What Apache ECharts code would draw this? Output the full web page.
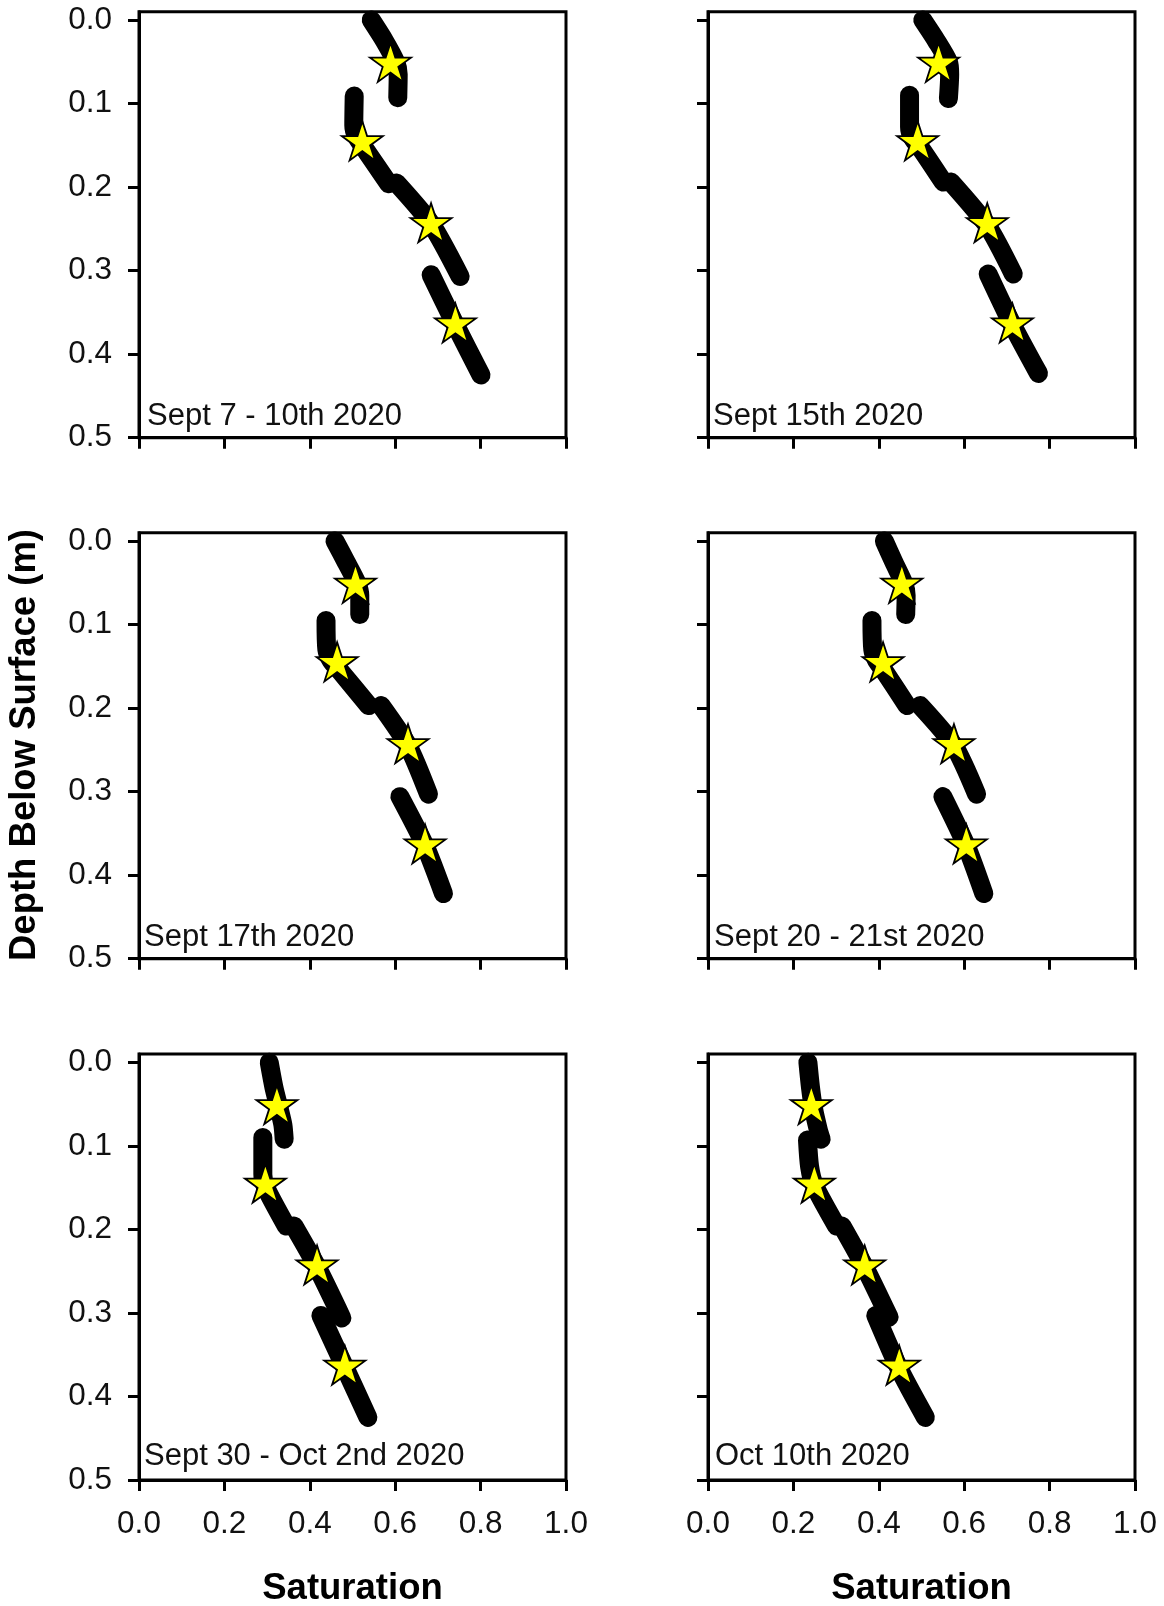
<!DOCTYPE html>
<html>
<head>
<meta charset="utf-8">
<script src="https://cdn.jsdelivr.net/npm/echarts@6/dist/echarts.min.js"></script>
<style>
  html, body { margin: 0; padding: 0; background: #fff; }
  #chart { width: 1164px; height: 1606px; }
</style>
</head>
<body>
<div id="chart"></div>
<script>
// ---- data ---------------------------------------------------------------
// depths (m) of the four measurement stations
const stationDepths = [0.053, 0.147, 0.245, 0.365];
const depthTicks = [0, 0.1, 0.2, 0.3, 0.4, 0.5];

const panelNames = [
  'Sept 7 - 10th 2020', 'Sept 15th 2020',
  'Sept 17th 2020', 'Sept 20 - 21st 2020',
  'Sept 30 - Oct 2nd 2020', 'Oct 10th 2020'
];

// measured saturation at each station depth
const measuredSep07 = [0.589, 0.523, 0.684, 0.741];
const measuredSep15 = [0.540, 0.491, 0.654, 0.713];
const measuredSep17 = [0.507, 0.464, 0.630, 0.670];
const measuredSep20 = [0.454, 0.410, 0.576, 0.605];
const measuredSep30 = [0.323, 0.296, 0.417, 0.482];
const measuredOct10 = [0.242, 0.249, 0.367, 0.448];

// modelled profiles: one list of [saturation, depth] per soil layer
const profileSep07 = [
  [[0.544, 0.000], [0.575, 0.025], [0.601, 0.050], [0.607, 0.065], [0.606, 0.093]],
  [[0.504, 0.091], [0.503, 0.126], [0.510, 0.140], [0.530, 0.155], [0.585, 0.196]],
  [[0.603, 0.195], [0.684, 0.244], [0.752, 0.307]],
  [[0.684, 0.305], [0.741, 0.365], [0.801, 0.425]]
];
const profileSep15 = [
  [[0.503, 0.000], [0.535, 0.025], [0.563, 0.050], [0.566, 0.065], [0.563, 0.094]],
  [[0.472, 0.090], [0.472, 0.128], [0.480, 0.142], [0.500, 0.155], [0.551, 0.194]],
  [[0.569, 0.194], [0.654, 0.246], [0.715, 0.304]],
  [[0.656, 0.304], [0.713, 0.365], [0.774, 0.423]]
];
const profileSep17 = [
  [[0.459, 0.000], [0.485, 0.025], [0.510, 0.050], [0.517, 0.065], [0.517, 0.088]],
  [[0.438, 0.095], [0.440, 0.130], [0.450, 0.143], [0.470, 0.155], [0.538, 0.197]],
  [[0.567, 0.197], [0.630, 0.245], [0.678, 0.303]],
  [[0.611, 0.306], [0.670, 0.365], [0.713, 0.422]]
];
const profileSep20 = [
  [[0.413, 0.000], [0.435, 0.025], [0.458, 0.050], [0.464, 0.065], [0.463, 0.088]],
  [[0.384, 0.095], [0.386, 0.130], [0.395, 0.143], [0.412, 0.155], [0.466, 0.197]],
  [[0.497, 0.197], [0.576, 0.245], [0.629, 0.303]],
  [[0.550, 0.306], [0.605, 0.365], [0.646, 0.422]]
];
const profileSep30 = [
  [[0.305, 0.000], [0.316, 0.030], [0.328, 0.055], [0.337, 0.075], [0.340, 0.092]],
  [[0.290, 0.090], [0.290, 0.134], [0.297, 0.150], [0.345, 0.196]],
  [[0.363, 0.196], [0.417, 0.245], [0.475, 0.306]],
  [[0.426, 0.303], [0.482, 0.365], [0.536, 0.425]]
];
const profileOct10 = [
  [[0.234, 0.000], [0.240, 0.030], [0.247, 0.055], [0.258, 0.080], [0.265, 0.092]],
  [[0.233, 0.093], [0.238, 0.125], [0.249, 0.147], [0.301, 0.196]],
  [[0.314, 0.196], [0.367, 0.245], [0.424, 0.305]],
  [[0.393, 0.303], [0.448, 0.367], [0.509, 0.425]]
];

const profiles = [profileSep07, profileSep15, profileSep17, profileSep20, profileSep30, profileOct10];
const measured = [measuredSep07, measuredSep15, measuredSep17, measuredSep20, measuredSep30, measuredOct10];

// ---- layout ---------------------------------------------------------------
const colLeft = [139, 708];
const rowTop = [11.7, 532.7, 1054];
const plotW = 427, plotH = 426;
const labelDrop = [20, 20, 22];          // panel caption height above the bottom frame
const labelX = [[147, 713], [144, 714], [144, 715]];

const FONT = '"Liberation Sans", Arial, Helvetica, sans-serif';
const STAR = 'path://M50 0 L61.23 34.55 L97.55 34.55 L68.17 55.9 L79.39 90.45 L50 69.1 L20.61 90.45 L31.83 55.9 L2.45 34.55 L38.77 34.55 Z';

const grid = [], xAxis = [], yAxis = [], series = [], graphic = [];

profiles.forEach((segs, i) => {
  const row = Math.floor(i / 2), col = i % 2;
  grid.push({
    left: colLeft[col], top: rowTop[row], width: plotW, height: plotH,
    show: true, borderColor: '#000', borderWidth: 3, backgroundColor: 'transparent'
  });
  xAxis.push({
    type: 'value', gridIndex: i, min: 0, max: 1, interval: 0.2,
    axisLine: { show: true, onZero: false, lineStyle: { color: '#000', width: 3 } },
    axisTick: { show: true, inside: false, length: 11, lineStyle: { color: '#000', width: 3 } },
    axisLabel: {
      show: row === 2, margin: 28, color: '#111', fontSize: 31.5, fontFamily: FONT,
      formatter: v => v.toFixed(1)
    },
    splitLine: { show: false }
  });
  yAxis.push({
    type: 'value', gridIndex: i, inverse: true, min: -0.01, max: 0.5,
    axisLine: { show: true, onZero: false, lineStyle: { color: '#000', width: 3 } },
    axisTick: { show: true, inside: false, length: 11, customValues: depthTicks,
                lineStyle: { color: '#000', width: 3 } },
    axisLabel: {
      show: col === 0, margin: 27, color: '#111', fontSize: 31.5, fontFamily: FONT,
      customValues: depthTicks, formatter: v => v.toFixed(1)
    },
    splitLine: { show: false }
  });
  segs.forEach(seg => {
    series.push({
      type: 'line', xAxisIndex: i, yAxisIndex: i, data: seg,
      showSymbol: false, symbol: 'none', smooth: 0.25, z: 2,
      lineStyle: { color: '#000', width: 19, cap: 'round', join: 'round' },
      silent: true, animation: false
    });
  });
  series.push({
    type: 'scatter', xAxisIndex: i, yAxisIndex: i, z: 5,
    data: measured[i].map((s, k) => [s, stationDepths[k]]),
    symbol: STAR, symbolSize: [41, 39], symbolOffset: [0, -2],
    itemStyle: { color: '#ffff00', opacity: 1, borderColor: '#000', borderWidth: 1.8 },
    silent: true, animation: false
  });
  graphic.push({
    type: 'text', left: labelX[row][col], top: rowTop[row] + plotH - labelDrop[row] - 17,
    style: { text: panelNames[i], fill: '#111', font: '31px ' + FONT }
  });
});

// axis titles
graphic.push({
  type: 'text', x: 25, y: 745, rotation: Math.PI / 2,
  style: { text: 'Depth Below Surface (m)', fill: '#000', font: 'bold 36.5px ' + FONT,
           align: 'center', verticalAlign: 'middle' }
});
[352.5, 921.5].forEach(cx => {
  graphic.push({
    type: 'text', x: cx, y: 1589,
    style: { text: 'Saturation', fill: '#000', font: 'bold 36.5px ' + FONT,
             align: 'center', verticalAlign: 'middle' }
  });
});

const chart = echarts.init(document.getElementById('chart'), null, { renderer: 'canvas' });
chart.setOption({
  backgroundColor: '#fff',
  animation: false,
  grid, xAxis, yAxis, series, graphic
});
</script>
</body>
</html>
